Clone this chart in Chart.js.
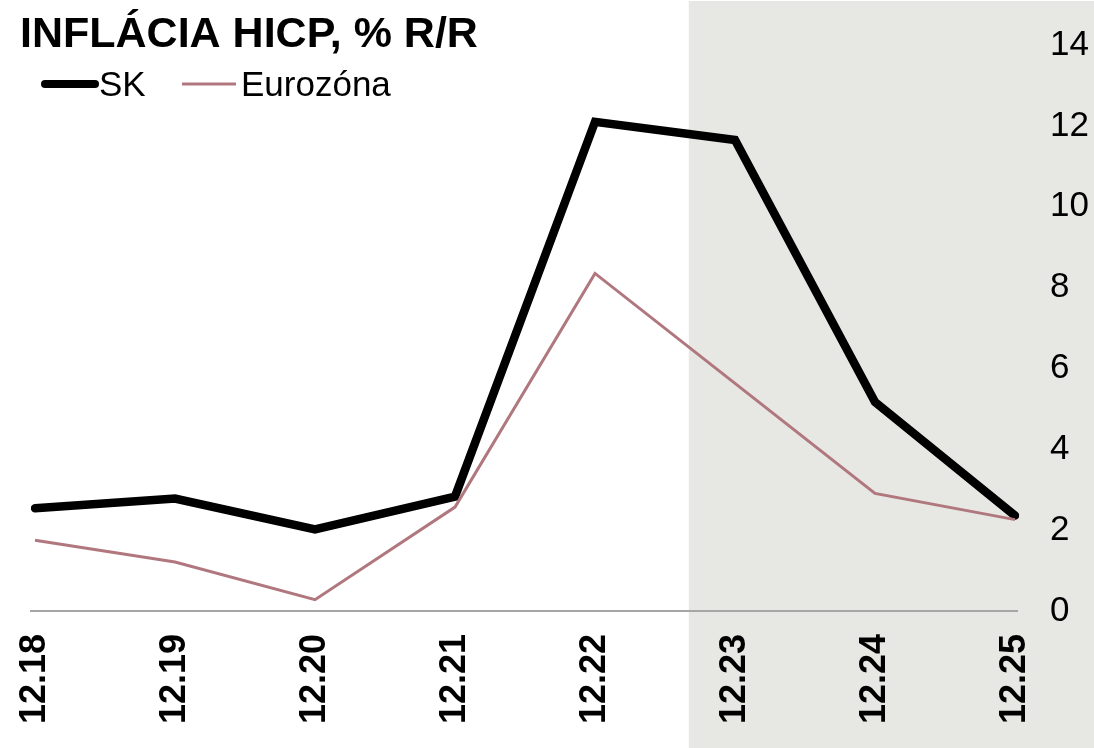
<!DOCTYPE html>
<html lang="sk">
<head>
    <meta charset="UTF-8">
    <title>Inflácia HICP, % r/r</title>
    <script src="https://cdn.jsdelivr.net/npm/chart.js"></script>
    <style>
        html, body {
            margin: 0;
            padding: 0;
            background-color: #ffffff;
        }

        .chart-box {
            position: relative;
            width: 1094px;
            height: 748px;
        }
    </style>
</head>
<body>
    <div class="chart-box">
        <canvas id="hicpChart"></canvas>
    </div>

    <script>
        // Data
        const categories = ['12.18', '12.19', '12.20', '12.21', '12.22', '12.23', '12.24', '12.25'];
        const skValues = [2.54, 2.78, 2.02, 2.83, 12.1, 11.65, 5.17, 2.36];
        const euroValues = [1.75, 1.21, 0.28, 2.57, 8.35, 5.63, 2.91, 2.26];
        const yTicks = [0, 2, 4, 6, 8, 10, 12, 14];
        const seriesNames = ['SK', 'Eurozóna'];
        const chartTitle = 'INFLÁCIA HICP, % R/R';
        const shadeFrom = 4.67; // category index where the grey band starts

        const FONT = '"Liberation Sans", Arial, sans-serif';
        const SK_COLOR = '#000000';
        const EURO_COLOR = '#b0787e';

        // Grey band behind everything
        const band = {
            id: 'band',
            beforeDraw(chart) {
                const { ctx, scales } = chart;
                const x0 = scales.x.getPixelForValue(shadeFrom);
                ctx.save();
                ctx.fillStyle = '#e7e7e3';
                ctx.fillRect(x0, 1, chart.width - x0, chart.height - 1);
                ctx.restore();
            }
        };

        // Zero line, a bit wider than the plot
        const zeroLine = {
            id: 'zeroLine',
            beforeDatasetsDraw(chart) {
                const { ctx, chartArea, scales } = chart;
                const y0 = scales.y.getPixelForValue(0);
                ctx.save();
                ctx.strokeStyle = '#a6a6a6';
                ctx.lineWidth = 2;
                ctx.beginPath();
                ctx.moveTo(chartArea.left - 5, y0);
                ctx.lineTo(chartArea.right + 3, y0);
                ctx.stroke();
                ctx.restore();
            }
        };

        // Title and legend sit inside the plot, top left
        const heading = {
            id: 'heading',
            afterDraw(chart) {
                const ctx = chart.ctx;
                ctx.save();
                ctx.fillStyle = '#000';
                ctx.textBaseline = 'alphabetic';
                ctx.font = 'bold 43px ' + FONT;
                ctx.fillText(chartTitle, 20, 47);

                ctx.lineCap = 'round';
                ctx.strokeStyle = SK_COLOR;
                ctx.lineWidth = 8;
                ctx.beginPath();
                ctx.moveTo(45, 84);
                ctx.lineTo(95, 84);
                ctx.stroke();

                ctx.lineCap = 'butt';
                ctx.strokeStyle = EURO_COLOR;
                ctx.lineWidth = 3;
                ctx.beginPath();
                ctx.moveTo(182, 84);
                ctx.lineTo(236, 84);
                ctx.stroke();

                ctx.font = '35px ' + FONT;
                ctx.fillStyle = '#000';
                ctx.fillText(seriesNames[0], 99, 96);
                ctx.fillText(seriesNames[1], 241, 96);
                ctx.restore();
            }
        };

        const ctx = document.getElementById('hicpChart').getContext('2d');
        new Chart(ctx, {
            type: 'line',
            data: {
                labels: categories,
                datasets: [
                    {
                        label: seriesNames[0],
                        data: skValues,
                        borderColor: SK_COLOR,
                        borderWidth: 8.5,
                        borderJoinStyle: 'miter',
                        borderCapStyle: 'round',
                        pointRadius: 0,
                        tension: 0,
                        order: 2
                    },
                    {
                        label: seriesNames[1],
                        data: euroValues,
                        borderColor: EURO_COLOR,
                        borderWidth: 3,
                        borderJoinStyle: 'miter',
                        pointRadius: 0,
                        tension: 0,
                        order: 1
                    }
                ]
            },
            options: {
                responsive: true,
                maintainAspectRatio: false,
                animation: false,
                layout: {
                    padding: { left: 35, top: 45, right: 0, bottom: 0 }
                },
                plugins: {
                    legend: { display: false },
                    tooltip: { enabled: false }
                },
                scales: {
                    x: {
                        type: 'category',
                        offset: false,
                        grid: { display: false, drawTicks: false },
                        border: { display: false },
                        ticks: {
                            autoSkip: false,
                            maxRotation: 90,
                            minRotation: 90,
                            padding: 23,
                            color: '#000',
                            font: { family: FONT, size: 36, weight: 'bold' }
                        },
                        afterFit(scale) {
                            scale.height = 137;
                            scale.paddingLeft = 0;
                            scale.paddingRight = 0;
                        }
                    },
                    y: {
                        position: 'right',
                        min: 0,
                        max: 14,
                        afterBuildTicks(scale) {
                            scale.ticks = yTicks.map(v => ({ value: v }));
                        },
                        grid: { display: false, drawTicks: false },
                        border: { display: false },
                        ticks: {
                            padding: 35,
                            color: '#000',
                            font: { family: FONT, size: 35 }
                        },
                        afterFit(scale) {
                            scale.width = 79;
                            scale.paddingTop = 0;
                            scale.paddingBottom = 0;
                        }
                    }
                }
            },
            plugins: [band, zeroLine, heading]
        });
    </script>
</body>
</html>
